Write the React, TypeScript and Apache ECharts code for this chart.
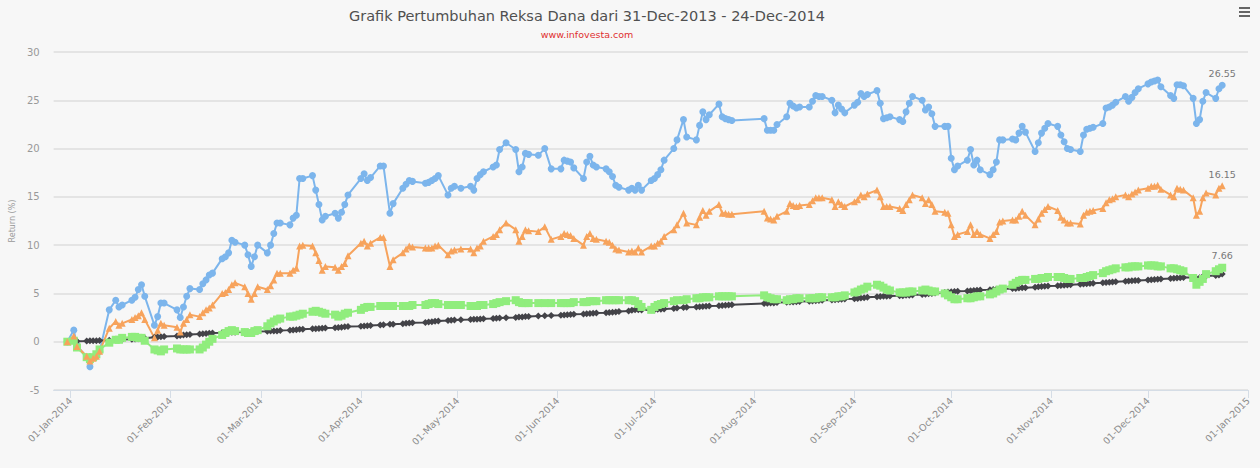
import React, { useEffect, useRef } from "react";
import * as echarts from "echarts";

// Trading days (x values)
const dates: string[] = [
  "2013-12-31", "2014-01-02", "2014-01-03", "2014-01-06", "2014-01-07", "2014-01-08", "2014-01-09", "2014-01-10", "2014-01-13", "2014-01-15", "2014-01-16", "2014-01-17", "2014-01-20", "2014-01-21", "2014-01-22", "2014-01-23", "2014-01-24", "2014-01-27", "2014-01-28", "2014-01-29", "2014-01-30",
  "2014-02-03", "2014-02-04", "2014-02-05", "2014-02-06", "2014-02-07", "2014-02-10", "2014-02-11", "2014-02-12", "2014-02-13", "2014-02-14", "2014-02-17", "2014-02-18", "2014-02-19", "2014-02-20", "2014-02-21", "2014-02-24", "2014-02-25", "2014-02-26", "2014-02-27", "2014-02-28",
  "2014-03-03", "2014-03-04", "2014-03-05", "2014-03-06", "2014-03-07", "2014-03-10", "2014-03-11", "2014-03-12", "2014-03-13", "2014-03-14", "2014-03-17", "2014-03-18", "2014-03-19", "2014-03-20", "2014-03-21", "2014-03-24", "2014-03-25", "2014-03-26", "2014-03-27", "2014-03-28",
  "2014-04-01", "2014-04-02", "2014-04-03", "2014-04-04", "2014-04-07", "2014-04-08", "2014-04-10", "2014-04-11", "2014-04-14", "2014-04-15", "2014-04-16", "2014-04-17", "2014-04-21", "2014-04-22", "2014-04-23", "2014-04-24", "2014-04-25", "2014-04-28", "2014-04-29", "2014-04-30",
  "2014-05-02", "2014-05-05", "2014-05-06", "2014-05-07", "2014-05-08", "2014-05-09", "2014-05-12", "2014-05-13", "2014-05-14", "2014-05-16", "2014-05-19", "2014-05-20", "2014-05-21", "2014-05-22", "2014-05-23", "2014-05-26", "2014-05-28", "2014-05-30",
  "2014-06-02", "2014-06-03", "2014-06-04", "2014-06-05", "2014-06-06", "2014-06-09", "2014-06-10", "2014-06-11", "2014-06-12", "2014-06-13", "2014-06-16", "2014-06-17", "2014-06-18", "2014-06-19", "2014-06-20", "2014-06-23", "2014-06-24", "2014-06-25", "2014-06-26", "2014-06-27", "2014-06-30",
  "2014-07-01", "2014-07-02", "2014-07-03", "2014-07-04", "2014-07-07", "2014-07-08", "2014-07-10", "2014-07-11", "2014-07-14", "2014-07-15", "2014-07-16", "2014-07-17", "2014-07-18", "2014-07-21", "2014-07-22", "2014-07-23", "2014-07-24", "2014-07-25",
  "2014-08-04", "2014-08-05", "2014-08-06", "2014-08-07", "2014-08-08", "2014-08-11", "2014-08-12", "2014-08-13", "2014-08-14", "2014-08-15", "2014-08-18", "2014-08-19", "2014-08-20", "2014-08-21", "2014-08-22", "2014-08-25", "2014-08-26", "2014-08-27", "2014-08-28", "2014-08-29",
  "2014-09-01", "2014-09-02", "2014-09-03", "2014-09-04", "2014-09-05", "2014-09-08", "2014-09-09", "2014-09-10", "2014-09-11", "2014-09-12", "2014-09-15", "2014-09-16", "2014-09-17", "2014-09-18", "2014-09-19", "2014-09-22", "2014-09-23", "2014-09-24", "2014-09-25", "2014-09-26", "2014-09-29", "2014-09-30",
  "2014-10-01", "2014-10-02", "2014-10-03", "2014-10-06", "2014-10-07", "2014-10-08", "2014-10-09", "2014-10-10", "2014-10-13", "2014-10-14", "2014-10-15", "2014-10-16", "2014-10-17", "2014-10-20", "2014-10-21", "2014-10-22", "2014-10-23", "2014-10-24", "2014-10-27", "2014-10-28", "2014-10-29", "2014-10-30", "2014-10-31",
  "2014-11-03", "2014-11-04", "2014-11-05", "2014-11-06", "2014-11-07", "2014-11-10", "2014-11-11", "2014-11-12", "2014-11-13", "2014-11-14", "2014-11-17", "2014-11-18", "2014-11-19", "2014-11-20", "2014-11-21", "2014-11-24", "2014-11-25", "2014-11-26", "2014-11-27", "2014-11-28",
  "2014-12-01", "2014-12-02", "2014-12-03", "2014-12-04", "2014-12-05", "2014-12-08", "2014-12-09", "2014-12-10", "2014-12-11", "2014-12-12", "2014-12-15", "2014-12-16", "2014-12-17", "2014-12-18", "2014-12-19", "2014-12-22", "2014-12-23", "2014-12-24",
];

// Blue series (circles)
const blueValues: number[] = [
  0, 1.2, -0.4, -1.6, -2.6, -1.6, -1.5, -1.0, 3.3, 4.3, 3.6, 3.8, 4.3, 4.6, 5.4, 5.9, 4.7, 1.7, 2.6, 4.0, 4.0,
  3.3, 2.5, 3.6, 4.7, 5.5, 5.4, 6.0, 6.4, 6.9, 7.1, 8.6, 8.8, 9.2, 10.5, 10.3, 10.0, 9.0, 7.8, 8.8, 10.0,
  9.2, 10.0, 11.2, 12.3, 12.3, 12.1, 12.8, 13.1, 16.9, 16.9, 17.2, 15.7, 14.2, 12.6, 13.0, 13.3, 12.8, 13.4, 14.2, 15.2,
  16.9, 17.4, 16.7, 17.0, 18.2, 18.2, 13.3, 14.3, 15.9, 16.3, 16.7, 16.6, 16.4, 16.5, 16.7, 16.9, 17.2, 15.2, 15.9, 16.1,
  15.9, 16.1, 15.7, 16.9, 17.3, 17.6, 18.1, 18.3, 19.9, 20.6, 19.9, 17.6, 18.1, 19.5, 19.4, 19.3, 20.0, 17.9,
  17.9, 18.8, 18.7, 18.6, 18.0, 16.9, 18.6, 19.2, 18.3, 18.1, 17.9, 17.6, 17.1, 16.2, 16.0, 15.7, 15.9, 15.7, 16.2, 15.7, 16.7,
  16.9, 17.3, 17.8, 18.8, 20.0, 20.9, 23.0, 21.2, 20.9, 22.4, 23.8, 23.0, 23.5, 24.6, 23.3, 23.1, 23.0, 22.9,
  23.1, 21.9, 21.9, 21.9, 22.5, 23.3, 24.7, 24.4, 24.2, 24.3, 24.3, 24.9, 25.5, 25.4, 25.4, 25.0, 23.7, 24.5, 24.1, 23.7,
  24.5, 24.8, 25.7, 25.4, 25.6, 26.0, 24.7, 23.1, 23.2, 23.3, 23.0, 22.8, 23.8, 24.7, 25.4, 25.0, 24.0, 24.3, 23.6, 22.3, 22.3, 22.3,
  19.0, 17.8, 18.2, 18.8, 19.9, 18.3, 18.8, 17.8, 17.3, 17.8, 18.6, 20.9, 20.9, 21.0, 20.9, 21.6, 22.3, 21.7, 19.7, 20.6, 21.6, 22.1, 22.6,
  22.3, 21.4, 20.7, 20.0, 19.9, 19.7, 21.4, 22.0, 22.1, 22.2, 22.6, 24.2, 24.3, 24.5, 24.8, 25.4, 24.9, 25.3, 25.8, 26.2,
  26.7, 26.9, 27.0, 27.1, 26.4, 25.5, 25.2, 26.6, 26.6, 26.5, 25.2, 22.6, 23.0, 24.9, 25.8, 25.2, 26.2, 26.55,
];

// Orange series (triangles)
const orangeValues: number[] = [
  0, 0.6, -0.5, -1.5, -2.0, -1.7, -1.5, -1.0, 1.4, 2.1, 1.7, 1.9, 2.3, 2.5, 2.7, 3.0, 2.3, 0.4, 1.2, 1.9, 1.7,
  1.5, 1.0, 1.9, 2.3, 2.8, 2.6, 3.0, 3.3, 3.5, 3.8, 5.0, 5.1, 5.4, 5.9, 6.1, 5.7, 5.0, 4.4, 5.0, 5.7,
  5.4, 5.8, 6.4, 7.1, 7.1, 7.1, 7.4, 7.6, 9.9, 10.0, 9.9, 9.2, 8.4, 7.4, 7.8, 7.7, 7.4, 7.8, 8.1, 8.9,
  10.2, 10.4, 9.9, 10.2, 10.8, 10.8, 7.8, 8.5, 9.2, 9.6, 9.9, 9.8, 9.7, 9.7, 9.7, 9.9, 10.0, 9.0, 9.4, 9.5,
  9.6, 9.6, 9.2, 9.7, 9.9, 10.4, 10.9, 11.1, 11.6, 12.3, 11.6, 10.4, 10.9, 11.6, 11.5, 11.4, 11.9, 10.6,
  10.9, 11.2, 11.1, 11.0, 10.7, 10.0, 10.9, 11.2, 10.7, 10.6, 10.4, 10.3, 10.0, 9.6, 9.5, 9.3, 9.4, 9.3, 9.7, 9.3, 9.9,
  9.9, 10.2, 10.4, 10.9, 11.6, 12.1, 13.3, 12.3, 12.1, 12.9, 13.6, 13.1, 13.5, 14.2, 13.3, 13.3, 13.2, 13.2,
  13.5, 12.8, 12.7, 12.6, 13.0, 13.5, 14.3, 14.1, 14.0, 14.1, 14.2, 14.6, 14.9, 14.9, 14.9, 14.7, 14.0, 14.5, 14.2, 14.0,
  14.5, 14.7, 15.2, 15.0, 15.3, 15.7, 15.0, 14.0, 14.0, 14.0, 13.8, 13.6, 14.2, 14.7, 15.2, 14.9, 14.3, 14.7, 14.2, 13.5, 13.4, 13.3,
  12.1, 10.9, 11.1, 11.4, 12.1, 11.1, 11.4, 11.1, 10.7, 11.1, 11.4, 12.4, 12.5, 12.6, 12.6, 13.0, 13.5, 13.1, 12.1, 12.7, 13.3, 13.7, 14.0,
  13.6, 12.9, 12.6, 12.3, 12.3, 12.2, 13.1, 13.4, 13.5, 13.6, 13.8, 14.4, 14.7, 14.8, 15.0, 15.2, 15.0, 15.3, 15.5, 15.7,
  15.9, 16.1, 16.1, 16.2, 15.8, 15.2, 15.0, 15.9, 15.8, 15.7, 14.9, 13.1, 13.5, 14.9, 15.4, 15.2, 15.9, 16.15,
];

// Green series (squares)
const greenValues: number[] = [
  0, 0.1, -0.6, -1.6, -1.8, -1.6, -1.3, -0.8, -0.1, 0.2, 0.2, 0.4, 0.5, 0.5, 0.4, 0.4, 0.1, -0.8, -0.9, -1.0, -0.8,
  -0.7, -0.8, -0.8, -0.8, -0.8, -0.8, -0.6, -0.3, 0.0, 0.3, 0.7, 0.9, 1.1, 1.2, 1.1, 1.0, 0.9, 0.9, 1.1, 1.2,
  1.6, 1.9, 2.1, 2.3, 2.4, 2.6, 2.6, 2.7, 2.8, 2.9, 3.1, 3.2, 3.1, 3.0, 2.9, 2.8, 2.6, 2.7, 2.9, 3.0,
  3.3, 3.5, 3.6, 3.6, 3.7, 3.7, 3.7, 3.7, 3.7, 3.7, 3.7, 3.8, 3.8, 3.9, 4.0, 4.0, 3.9, 3.8, 3.8, 3.8,
  3.8, 3.7, 3.7, 3.7, 3.8, 3.8, 3.9, 4.0, 4.1, 4.2, 4.3, 4.1, 4.0, 4.0, 4.0, 4.0, 4.0, 4.0,
  4.0, 4.0, 4.0, 4.0, 4.1, 4.1, 4.1, 4.2, 4.2, 4.2, 4.3, 4.3, 4.3, 4.3, 4.3, 4.3, 4.3, 4.2, 3.9, 3.6, 3.3,
  3.6, 3.8, 3.9, 4.0, 4.2, 4.3, 4.3, 4.4, 4.5, 4.5, 4.6, 4.6, 4.6, 4.7, 4.7, 4.7, 4.7, 4.7,
  4.8, 4.6, 4.5, 4.4, 4.4, 4.3, 4.4, 4.4, 4.5, 4.5, 4.5, 4.5, 4.5, 4.6, 4.6, 4.6, 4.6, 4.7, 4.7, 4.8,
  5.1, 5.2, 5.4, 5.5, 5.7, 5.9, 5.8, 5.6, 5.4, 5.3, 5.1, 5.1, 5.1, 5.2, 5.2, 5.3, 5.4, 5.3, 5.2, 5.2, 5.0, 4.8,
  4.6, 4.4, 4.4, 4.5, 4.5, 4.6, 4.7, 4.7, 4.9, 5.0, 5.2, 5.4, 5.5, 5.9, 6.1, 6.3, 6.4, 6.4, 6.5, 6.5, 6.6, 6.6, 6.7,
  6.7, 6.7, 6.6, 6.5, 6.5, 6.6, 6.6, 6.7, 6.8, 6.9, 7.1, 7.3, 7.4, 7.5, 7.6, 7.7, 7.7, 7.8, 7.8, 7.8,
  7.9, 7.9, 7.9, 7.8, 7.8, 7.6, 7.6, 7.5, 7.4, 7.3, 6.6, 5.9, 6.2, 6.5, 7.0, 7.3, 7.5, 7.66,
];

// Black series (diamonds)
const blackValues: number[] = [
  0, 0.0, 0.05, 0.08, 0.1, 0.1, 0.1, 0.12, 0.15, 0.2, 0.2, 0.22, 0.25, 0.28, 0.3, 0.33, 0.35, 0.45, 0.5, 0.52, 0.55,
  0.6, 0.65, 0.7, 0.72, 0.75, 0.8, 0.82, 0.85, 0.88, 0.9, 0.92, 0.93, 0.95, 0.97, 0.98, 1.0, 1.0, 1.02, 1.05, 1.07,
  1.08, 1.1, 1.1, 1.12, 1.15, 1.2, 1.22, 1.25, 1.28, 1.3, 1.33, 1.35, 1.37, 1.4, 1.42, 1.45, 1.47, 1.5, 1.55, 1.58,
  1.6, 1.62, 1.65, 1.68, 1.72, 1.75, 1.8, 1.82, 1.86, 1.9, 1.93, 1.96, 2.0, 2.05, 2.08, 2.12, 2.15, 2.2, 2.22, 2.25,
  2.27, 2.3, 2.32, 2.33, 2.35, 2.37, 2.4, 2.42, 2.45, 2.48, 2.52, 2.55, 2.57, 2.6, 2.62, 2.65, 2.68, 2.72,
  2.75, 2.77, 2.8, 2.82, 2.85, 2.88, 2.9, 2.92, 2.95, 2.97, 3.0, 3.02, 3.05, 3.08, 3.12, 3.18, 3.25, 3.3, 3.3, 3.28, 3.3,
  3.32, 3.35, 3.37, 3.4, 3.45, 3.5, 3.55, 3.57, 3.6, 3.62, 3.65, 3.67, 3.7, 3.73, 3.75, 3.77, 3.8, 3.82,
  3.95, 3.98, 4.0, 4.02, 4.05, 4.08, 4.1, 4.12, 4.15, 4.17, 4.2, 4.22, 4.25, 4.27, 4.3, 4.32, 4.35, 4.37, 4.4, 4.42,
  4.45, 4.48, 4.52, 4.55, 4.6, 4.65, 4.68, 4.7, 4.72, 4.73, 4.75, 4.77, 4.8, 4.82, 4.85, 4.88, 4.92, 4.97, 5.0, 5.05, 5.1, 5.15,
  5.17, 5.2, 5.22, 5.25, 5.28, 5.3, 5.33, 5.35, 5.38, 5.4, 5.42, 5.45, 5.47, 5.5, 5.52, 5.55, 5.58, 5.6, 5.65, 5.68, 5.72, 5.75, 5.78,
  5.8, 5.83, 5.85, 5.88, 5.9, 5.95, 5.98, 6.0, 6.03, 6.05, 6.1, 6.13, 6.15, 6.18, 6.2, 6.25, 6.28, 6.3, 6.33, 6.35,
  6.4, 6.42, 6.45, 6.48, 6.5, 6.55, 6.58, 6.6, 6.62, 6.65, 6.65, 6.55, 6.62, 6.75, 6.8, 6.85, 6.9, 7.0,
];

const monthTicks: string[] = [
  "2014-01-01", "2014-02-01", "2014-03-01", "2014-04-01", "2014-05-01", "2014-06-01", "2014-07-01",
  "2014-08-01", "2014-09-01", "2014-10-01", "2014-11-01", "2014-12-01", "2015-01-01",
];
const monthNames: string[] = ["Jan", "Feb", "Mar", "Apr", "May", "Jun", "Jul", "Aug", "Sep", "Oct", "Nov", "Dec"];
const yTicks = { min: -5, max: 30, interval: 5 };

const titleText = "Grafik Pertumbuhan Reksa Dana dari 31-Dec-2013 - 24-Dec-2014";
const subtitleText = "www.infovesta.com";
const yAxisTitle = "Return (%)";

const FONT = "'DejaVu Sans', 'Lucida Grande', Arial, sans-serif";

function toTs(s: string): number {
  const [y, m, d] = s.split("-").map(Number);
  return new Date(y, m - 1, d).getTime();
}

function fmtDate(v: number): string {
  const d = new Date(v);
  const dd = String(d.getDate()).padStart(2, "0");
  return `${dd}-${monthNames[d.getMonth()]}-${d.getFullYear()}`;
}

function buildData(values: number[], withEndLabel: boolean) {
  return dates.map((d, i) => {
    const item: any = { value: [toTs(d), values[i]] };
    if (withEndLabel && i === dates.length - 1) {
      item.label = {
        show: true,
        position: "top",
        distance: 3,
        color: "#777",
        fontSize: 9.5,
        fontFamily: FONT,
        formatter: (p: any) => Number(p.value[1]).toFixed(2),
      };
    }
    return item;
  });
}

export default function App() {
  const ref = useRef<HTMLDivElement>(null);

  useEffect(() => {
    document.body.style.margin = "0";
    if (!ref.current) return;
    const chart = echarts.init(ref.current, undefined, { renderer: "svg" });

    const mkSeries = (name: string, values: number[], color: string, symbol: string, size: number, lw: number, endLabel: boolean) => ({
      type: "line",
      name,
      data: buildData(values, endLabel),
      symbol,
      symbolSize: size,
      showSymbol: true,
      showAllSymbol: true,
      lineStyle: { color, width: lw },
      itemStyle: { color },
      emphasis: { disabled: true },
      label: { show: false },
    });

    const tickValues = monthTicks.map(toTs);

    chart.setOption({
      animation: false,
      backgroundColor: "#f7f7f7",
      textStyle: { fontFamily: FONT },
      title: {
        text: titleText,
        subtext: subtitleText,
        left: 582,
        top: 3,
        textAlign: "center",
        itemGap: 6,
        textStyle: { fontFamily: FONT, fontSize: 14.5, fontWeight: "normal", color: "#505050" },
        subtextStyle: { fontFamily: FONT, fontSize: 9.5, color: "#e03030" },
      },
      grid: { left: 43, right: 12, top: 52, bottom: 78, containLabel: false },
      xAxis: {
        type: "value",
        scale: true,
        min: new Date(2013, 11, 26, 18).getTime(),
        max: toTs("2015-01-01"),
        axisLine: { show: true, onZero: false, lineStyle: { color: "#d5dde6", width: 1 } },
        axisTick: {
          show: true,
          length: 8,
          lineStyle: { color: "#d5dde6" },
          customValues: tickValues,
        },
        axisLabel: {
          show: true,
          rotate: 45,
          margin: 9,
          color: "#8c8c8c",
          fontSize: 9.5,
          fontFamily: FONT,
          customValues: tickValues,
          formatter: (v: number) => fmtDate(v),
          hideOverlap: false,
          showMinLabel: true,
          showMaxLabel: true,
        },
        splitLine: { show: false },
      },
      yAxis: {
        type: "value",
        min: yTicks.min,
        max: yTicks.max,
        interval: yTicks.interval,
        axisLine: { show: false },
        axisTick: { show: false },
        axisLabel: { color: "#999", fontSize: 10, margin: 14, fontFamily: FONT },
        splitLine: { lineStyle: { color: "#dedede", width: 1.5 } },
        name: yAxisTitle,
        nameLocation: "middle",
        nameRotate: 90,
        nameGap: 36,
        nameTextStyle: { color: "#999", fontSize: 8, fontFamily: FONT },
      },
      series: [
        mkSeries("Reksa Dana Saham", blueValues, "#7cb5ec", "circle", 7, 2, true),
        mkSeries("Reksa Dana Pasar Uang", blackValues, "#434348", "diamond", 7, 2, false),
        mkSeries("Reksa Dana Pendapatan Tetap", greenValues, "#90ed7d", "rect", 8, 2, true),
        mkSeries("Reksa Dana Campuran", orangeValues, "#f7a35c", "triangle", 7, 2, true),
      ],
      graphic: [
        {
          type: "group",
          right: 10,
          top: 7,
          children: [
            { type: "rect", shape: { x: 0, y: 0, width: 11, height: 2 }, style: { fill: "#666" } },
            { type: "rect", shape: { x: 0, y: 4, width: 11, height: 2 }, style: { fill: "#666" } },
            { type: "rect", shape: { x: 0, y: 8, width: 11, height: 2 }, style: { fill: "#666" } },
          ],
        },
      ],
    });

    return () => chart.dispose();
  }, []);

  return <div ref={ref} style={{ width: 1260, height: 468 }} />;
}
